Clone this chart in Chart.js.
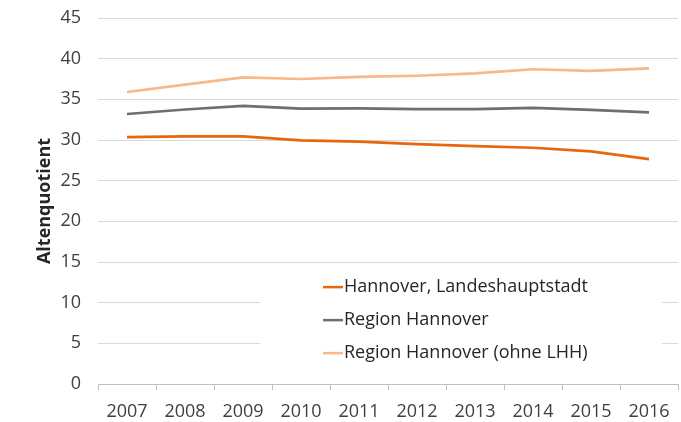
<!DOCTYPE html>
<html>
<head>
<meta charset="utf-8">
<script src="https://cdn.jsdelivr.net/npm/chart.js@4/dist/chart.umd.min.js"></script>
<style>
  html, body { margin: 0; padding: 0; background: #ffffff; }
  #c { display: block; }
</style>
</head>
<body>
<canvas id="c" width="681" height="422"></canvas>
<script>
const years = ["2007","2008","2009","2010","2011","2012","2013","2014","2015","2016"];
const hannoverLHH = [30.35, 30.45, 30.45, 29.95, 29.8, 29.5, 29.25, 29.05, 28.6, 27.65];
const regionHannover = [33.2, 33.75, 34.2, 33.85, 33.9, 33.8, 33.8, 33.95, 33.7, 33.4];
const regionOhneLHH = [35.9, 36.8, 37.7, 37.5, 37.75, 37.9, 38.2, 38.7, 38.5, 38.8];
const seriesNames = ["Hannover, Landeshauptstadt", "Region Hannover", "Region Hannover (ohne LHH)"];
const yTitle = "Altenquotient";

const FONT = "'Open Sans', 'Liberation Sans', sans-serif";
const colors = ["#E8660F", "#6F6F6F", "#F8B887"];

const legendInArea = {
  id: 'legendInArea',
  afterDraw(chart) {
    const ctx = chart.ctx;
    const area = chart.chartArea;
    const boxLeft = area.left + 162;
    const boxRight = area.right - 16;
    const yTop = chart.scales.y.getPixelForValue(14);
    const yBot = chart.scales.y.getPixelForValue(1);
    ctx.save();
    ctx.fillStyle = '#ffffff';
    ctx.fillRect(boxLeft, yTop, boxRight - boxLeft, yBot - yTop);
    ctx.font = "18px " + FONT;
    ctx.textBaseline = 'middle';
    ctx.textAlign = 'left';
    chart.data.datasets.forEach((ds, i) => {
      const yy = yTop + 17 + i * 33;
      ctx.strokeStyle = ds.borderColor;
      ctx.lineWidth = 2.5;
      ctx.beginPath();
      ctx.moveTo(boxLeft + 63, yy);
      ctx.lineTo(boxLeft + 83, yy);
      ctx.stroke();
      ctx.fillStyle = '#262626';
      ctx.fillText(ds.label, boxLeft + 84, yy);
    });
    ctx.restore();
  }
};

new Chart(document.getElementById('c'), {
  type: 'line',
  data: {
    labels: years,
    datasets: [
      { label: seriesNames[0], data: hannoverLHH, borderColor: colors[0], backgroundColor: colors[0] },
      { label: seriesNames[1], data: regionHannover, borderColor: colors[1], backgroundColor: colors[1] },
      { label: seriesNames[2], data: regionOhneLHH, borderColor: colors[2], backgroundColor: colors[2] }
    ]
  },
  options: {
    responsive: false,
    animation: false,
    devicePixelRatio: 1,
    layout: { padding: { left: 0, right: 3, top: 18, bottom: 0 } },
    elements: {
      line: { borderWidth: 2.7, tension: 0 },
      point: { radius: 0 }
    },
    plugins: {
      legend: { display: false },
      tooltip: { enabled: false }
    },
    scales: {
      x: {
        offset: true,
        grid: { offset: true, drawOnChartArea: false, drawTicks: true, tickLength: 6, color: '#bfbfbf' },
        border: { color: '#bfbfbf', width: 1 },
        ticks: { color: '#404040', font: { family: FONT, size: 18 }, padding: 11, maxRotation: 0, autoSkip: false },
        afterFit(s) { s.height = 38; s.paddingLeft = 0; s.paddingRight = 0; }
      },
      y: {
        min: 0, max: 45,
        ticks: { stepSize: 5, color: '#404040', font: { family: FONT, size: 18 }, padding: 17 },
        grid: { color: '#d9d9d9', drawTicks: false, lineWidth: 1 },
        border: { display: false },
        title: { display: true, text: yTitle, color: '#262626', font: { family: FONT, size: 18, weight: 'bold' }, padding: { top: 34, bottom: 0 } },
        afterFit(s) { s.width = 98; s.paddingTop = 0; s.paddingBottom = 0; }
      }
    }
  },
  plugins: [legendInArea]
});
</script>
</body>
</html>
